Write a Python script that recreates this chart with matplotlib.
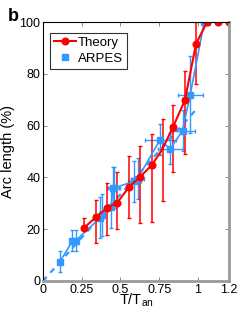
import numpy as np
import matplotlib
matplotlib.use('Agg')
import matplotlib.pyplot as plt

plt.rcParams['font.family'] = ['Liberation Sans', 'DejaVu Sans']
plt.rcParams['mathtext.fontset'] = 'custom'
plt.rcParams['mathtext.rm'] = 'Liberation Sans'

RED = '#ff0000'
BLUE = '#3399ff'

# Theory curve (asymmetric error bars)
theory_x = [0.265, 0.342, 0.413, 0.477, 0.555, 0.626, 0.703, 0.771, 0.839,
            0.916, 0.987, 1.058, 1.129, 1.2]
theory_y = [20.5, 24.7, 28.2, 30.1, 36.3, 40.2, 44.8, 51.0, 59.5,
            69.9, 91.5, 100, 100, 100]
theory_lo = [0, 10, 10.4, 10, 12, 18, 22, 20, 17.5, 21, 15.5, 0, 0, 0]
theory_hi = [4, 6.6, 9.6, 12, 12, 12, 12, 11.5, 8.5, 11, 8.5, 0, 0, 0]
theory_hidden = [7]  # point drawn without marker

# ARPES data
arpes_x = [0.11, 0.19, 0.21, 0.37, 0.38, 0.44, 0.45, 0.46, 0.59, 0.61,
           0.755, 0.82, 0.90, 0.95, 1.04, 1.06]
arpes_y = [7.5, 15.5, 15.5, 24.5, 25.5, 28.5, 36, 36, 38.5, 39.5,
           54.5, 51, 58, 72, 100, 100]
arpes_xerr = [0, 0.01, 0.01, 0.02, 0.02, 0.02, 0.04, 0.04, 0.04, 0.04,
              0.1, 0.08, 0.08, 0.08, 0.01, 0.01]
arpes_yerr = [4, 4, 4, 8, 8, 8, 8, 8, 8, 8, 6, 6, 8, 15, 0, 0]

# linear fit to ARPES
fit_x = [0.0, 1.0]
fit_y = [0.0, 67.0]

xticks = [0, 0.25, 0.5, 0.75, 1, 1.2]
xticklabels = ['0', '0.25', '0.5', '0.75', '1', '1.2']
yticks = [0, 20, 40, 60, 80, 100]

fig = plt.figure(figsize=(2.45, 3.27), dpi=100)
ax = fig.add_axes([0.1755, 0.1407, 0.7592, 0.792])

ax.plot(fit_x, fit_y, color=BLUE, lw=1.6, ls=(0, (2.5, 2.5)))

ax.errorbar(arpes_x, arpes_y, xerr=arpes_xerr, yerr=arpes_yerr,
            color=BLUE, ecolor=BLUE, lw=1.2, elinewidth=1.0, capsize=1.5,
            marker='s', ms=4.2, mec=BLUE, mfc=BLUE)

line, caps, bars = ax.errorbar(theory_x, theory_y,
                               yerr=[theory_lo, theory_hi],
                               color=RED, ecolor=RED, lw=1.5,
                               elinewidth=1.1, capsize=1.5,
                               marker='o', ms=4.8, mec=RED, mfc=RED)
line.set_markevery([i for i in range(len(theory_x)) if i not in theory_hidden])

# legend handles
h_th, = ax.plot([], [], color=RED, lw=1.5, marker='o', ms=4.8, label='Theory')
h_ar, = ax.plot([], [], color=BLUE, ls='none', marker='s', ms=4.2, label='ARPES')
leg = ax.legend(handles=[h_th, h_ar], loc='upper left',
                bbox_to_anchor=(0.04, 0.958), fontsize=9.5, frameon=True,
                fancybox=False, edgecolor='black', handlelength=1.6,
                handletextpad=0.2, borderpad=0.3, labelspacing=0.25,
                borderaxespad=0)
leg.get_frame().set_linewidth(0.8)

ax.set_xlim(0, 1.2)
ax.set_ylim(0, 100)
ax.set_xticks(xticks)
ax.set_xticklabels(xticklabels)
ax.set_yticks(yticks)
ax.tick_params(direction='in', length=3, width=0.6, color='#777777',
               labelsize=9, top=True, right=True, pad=2)

for s in ['top', 'left']:
    ax.spines[s].set_color('black')
    ax.spines[s].set_linewidth(0.8)
for s in ['right', 'bottom']:
    ax.spines[s].set_color('#9a9a9a')
    ax.spines[s].set_linewidth(2.0)

ax.set_ylabel('Arc length (%)', fontsize=10.5, labelpad=3)
ax.set_xlabel(r'T/T$_\mathregular{an}$', fontsize=10.5, labelpad=-3)

fig.text(0.03, 0.975, 'b', fontsize=13, fontweight='bold', va='top')

fig.savefig('out.png', dpi=100)
